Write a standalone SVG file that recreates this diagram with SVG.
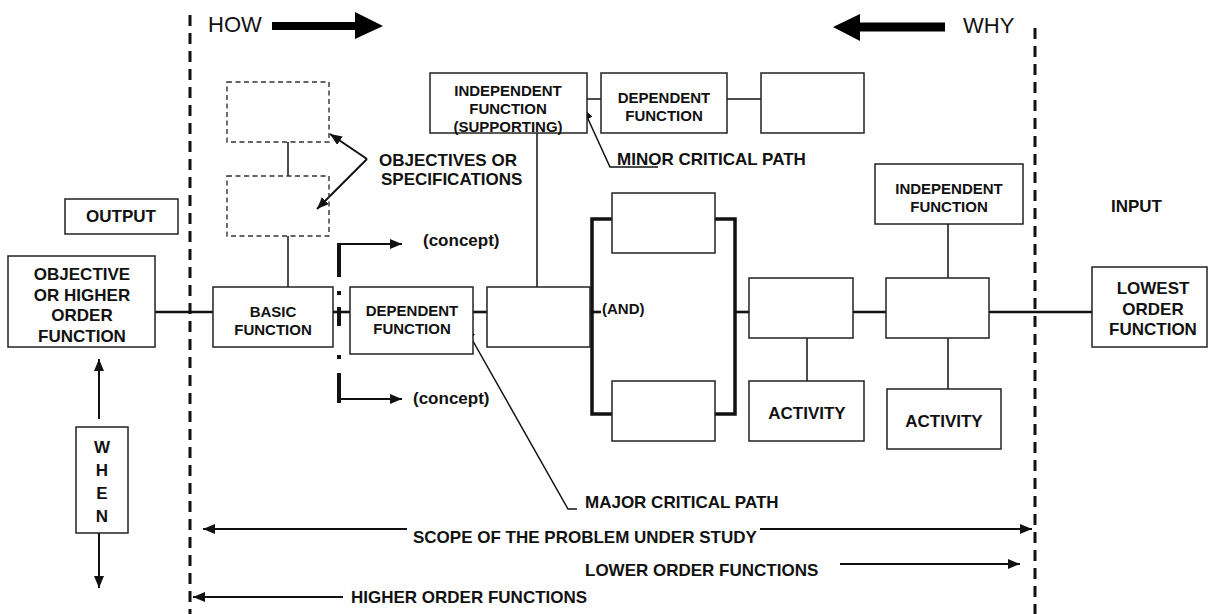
<svg xmlns="http://www.w3.org/2000/svg" width="1208" height="614" viewBox="0 0 1208 614">
  <style>
    .box { fill: #fff; stroke: #222; stroke-width: 1.5; }
    .dbox { fill: none; stroke: #333; stroke-width: 1.4; stroke-dasharray: 5 3.5; }
    .t { font-family: "Liberation Sans", Arial, sans-serif; font-weight: bold; fill: #111; }
    .s15 { font-size: 15px; }
    .s17 { font-size: 17px; }
    .mid { text-anchor: middle; }
    .reg { font-family: "Liberation Sans", Arial, sans-serif; font-size: 22px; fill: #111; }
    .ln { fill: none; stroke: #111; stroke-width: 1.5; }
    .main { fill: none; stroke: #111; stroke-width: 2.6; }
    .brk { fill: none; stroke: #111; stroke-width: 3.5; }
    .scope { fill: none; stroke: #111; stroke-width: 3; stroke-dasharray: 11 7; }
    .arr { fill: none; stroke: #111; stroke-width: 2; marker-end: url(#head); }
  </style>
  <defs>
    <marker id="head" markerUnits="userSpaceOnUse" markerWidth="12" markerHeight="10" refX="12" refY="5" orient="auto">
      <path d="M0,0 L12,5 L0,10 z" fill="#111"/>
    </marker>
  </defs>

  <rect width="1208" height="614" fill="#fff"/>

  <!-- scope boundaries -->
  <g id="boundaries">
    <line class="scope" x1="190" y1="15" x2="190" y2="614"/>
    <line class="scope" x1="1035" y1="28" x2="1035" y2="614"/>
  </g>

  <!-- HOW / WHY direction arrows -->
  <g id="how">
    <text class="reg" x="208" y="32">HOW</text>
    <polygon points="272,22 355,22 355,12 383,26 355,39 355,30 272,30" fill="#000"/>
  </g>
  <g id="why">
    <text class="reg" x="963" y="33">WHY</text>
    <polygon points="945,22.5 860,22.5 860,14 833,27 860,41 860,31.5 945,31.5" fill="#000"/>
  </g>

  <!-- connectors -->
  <g id="connectors">
    <!-- major path -->
    <line class="main" x1="155" y1="312" x2="213" y2="312"/>
    <line class="main" x1="333" y1="312" x2="350" y2="312"/>
    <line class="main" x1="473" y1="312" x2="487" y2="312"/>
    <line class="main" x1="590" y1="312" x2="601" y2="312"/>
    <line class="main" x1="734" y1="312" x2="749" y2="312"/>
    <line class="main" x1="853" y1="312" x2="886" y2="312"/>
    <line class="main" x1="989" y1="312" x2="1092" y2="312"/>
    <!-- AND bracket -->
    <path class="brk" d="M612,219 H592 V414 H612"/>
    <path class="brk" d="M715,219 H735 V414 H715"/>
    <!-- verticals -->
    <line class="ln" x1="288" y1="142" x2="288" y2="176"/>
    <line class="ln" x1="288" y1="236" x2="288" y2="287"/>
    <line class="ln" x1="537" y1="133" x2="537" y2="287"/>
    <line class="ln" x1="807" y1="338" x2="807" y2="381"/>
    <line class="ln" x1="948" y1="224" x2="948" y2="278"/>
    <line class="ln" x1="948" y1="338" x2="948" y2="389"/>
    <!-- minor path -->
    <line class="ln" x1="587" y1="99" x2="601" y2="99"/>
    <line class="ln" x1="727" y1="99" x2="761" y2="99"/>
    <!-- concept split (dash-dot) -->
    <g stroke="#111" stroke-width="4" fill="none">
      <line x1="339" y1="243" x2="339" y2="277"/>
      <line x1="339" y1="291" x2="339" y2="295"/>
      <line x1="339" y1="307" x2="339" y2="326"/>
      <line x1="339" y1="355" x2="339" y2="359"/>
      <line x1="339" y1="373" x2="339" y2="403"/>
    </g>
    <path class="arr" d="M338,244 H402"/>
    <path class="arr" d="M338,399 H402"/>
    <!-- objectives pointers -->
    <path class="arr" d="M367,159 L330,134"/>
    <path class="arr" d="M367,159 L317,209"/>
    <!-- critical path leaders -->
    <path class="arr" style="stroke-width:1.5" d="M658,167 H610 L583,108"/>
    <path class="arr" style="stroke-width:1.5" d="M577,509 H568 L465,327"/>
    <!-- WHEN arrows -->
    <path class="arr" d="M99,419 V359"/>
    <path class="arr" d="M99,528 V588"/>
    <!-- scope arrows -->
    <path class="arr" d="M407,529 H203"/>
    <path class="arr" d="M760,529 H1032"/>
    <path class="arr" d="M840,564 H1020"/>
    <path class="arr" d="M343,597 H193"/>
  </g>

  <g id="objective">
    <rect class="box" x="8" y="256" width="147" height="91"/>
    <text class="t s17 mid" x="82" y="280">OBJECTIVE</text>
    <text class="t s17 mid" x="82" y="301">OR HIGHER</text>
    <text class="t s17 mid" x="82" y="321">ORDER</text>
    <text class="t s17 mid" x="82" y="342">FUNCTION</text>
  </g>

  <g id="output">
    <rect class="box" x="65" y="199" width="113" height="35"/>
    <text class="t s17 mid" x="121" y="222">OUTPUT</text>
  </g>

  <g id="when">
    <rect class="box" x="76" y="427" width="52" height="106"/>
    <text class="t s17 mid" x="102" y="453">W</text>
    <text class="t s17 mid" x="102" y="476">H</text>
    <text class="t s17 mid" x="102" y="499">E</text>
    <text class="t s17 mid" x="102" y="522">N</text>
  </g>

  <g id="objectives">
    <rect class="dbox" x="227" y="82" width="102" height="60"/>
    <rect class="dbox" x="227" y="176" width="102" height="60"/>
    <text class="t s17" x="379" y="166">OBJECTIVES OR</text>
    <text class="t s17" x="381" y="185">SPECIFICATIONS</text>
  </g>

  <g id="basic">
    <rect class="box" x="213" y="287" width="120" height="60"/>
    <text class="t s15 mid" x="273" y="317">BASIC</text>
    <text class="t s15 mid" x="273" y="335">FUNCTION</text>
  </g>

  <g id="concepts">
    <text class="t s17" x="423" y="246">(concept)</text>
    <text class="t s17" x="413" y="404">(concept)</text>
  </g>

  <g id="dependent">
    <rect class="box" x="350" y="287" width="123" height="67"/>
    <text class="t s15 mid" x="412" y="316">DEPENDENT</text>
    <text class="t s15 mid" x="412" y="334">FUNCTION</text>
  </g>

  <g id="junction">
    <rect class="box" x="487" y="287" width="103" height="60"/>
  </g>

  <g id="and">
    <rect class="box" x="612" y="193" width="103" height="60"/>
    <rect class="box" x="612" y="381" width="103" height="60"/>
    <text class="t s15" x="602" y="314">(AND)</text>
  </g>

  <g id="supporting">
    <rect class="box" x="430" y="73" width="157" height="60"/>
    <text class="t s15 mid" x="508" y="96">INDEPENDENT</text>
    <text class="t s15 mid" x="508" y="114">FUNCTION</text>
    <text class="t s15 mid" x="508" y="132">(SUPPORTING)</text>
  </g>

  <g id="minor-dependent">
    <rect class="box" x="601" y="73" width="126" height="60"/>
    <text class="t s15 mid" x="664" y="103">DEPENDENT</text>
    <text class="t s15 mid" x="664" y="121">FUNCTION</text>
  </g>

  <g id="minor-end">
    <rect class="box" x="761" y="73" width="103" height="60"/>
  </g>

  <g id="minor-label">
    <text class="t s17" x="617" y="165">MINOR CRITICAL PATH</text>
  </g>

  <g id="step-a">
    <rect class="box" x="749" y="278" width="104" height="60"/>
  </g>
  <g id="activity-a">
    <rect class="box" x="749" y="381" width="115" height="60"/>
    <text class="t s17 mid" x="807" y="419">ACTIVITY</text>
  </g>

  <g id="step-b">
    <rect class="box" x="886" y="278" width="103" height="60"/>
  </g>
  <g id="activity-b">
    <rect class="box" x="887" y="389" width="114" height="60"/>
    <text class="t s17 mid" x="944" y="427">ACTIVITY</text>
  </g>

  <g id="independent">
    <rect class="box" x="875" y="164" width="148" height="60"/>
    <text class="t s15 mid" x="949" y="194">INDEPENDENT</text>
    <text class="t s15 mid" x="949" y="212">FUNCTION</text>
  </g>

  <g id="input">
    <text class="t s17" x="1111" y="212">INPUT</text>
  </g>

  <g id="lowest">
    <rect class="box" x="1092" y="267" width="115" height="80"/>
    <text class="t s17 mid" x="1153" y="294">LOWEST</text>
    <text class="t s17 mid" x="1153" y="315">ORDER</text>
    <text class="t s17 mid" x="1153" y="335">FUNCTION</text>
  </g>

  <g id="labels">
    <text class="t s17" x="585" y="508">MAJOR CRITICAL PATH</text>
    <text class="t s17" x="413" y="543">SCOPE OF THE PROBLEM UNDER STUDY</text>
    <text class="t s17" x="585" y="576">LOWER ORDER FUNCTIONS</text>
    <text class="t s17" x="351" y="603">HIGHER ORDER FUNCTIONS</text>
  </g>
</svg>
